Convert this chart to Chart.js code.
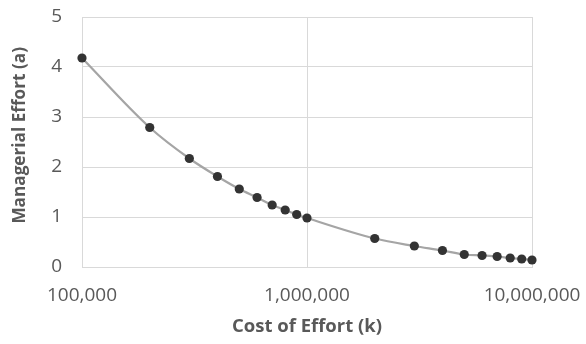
<!DOCTYPE html>
<html>
<head>
<meta charset="utf-8">
<script src="https://cdn.jsdelivr.net/npm/chart.js@4/dist/chart.umd.min.js"></script>
<style>
  html, body { margin: 0; padding: 0; background: #ffffff; }
  #wrap { width: 586px; height: 344px; position: relative; }
</style>
</head>
<body>
<div id="wrap"><canvas id="chart" width="586" height="344"></canvas></div>
<script>
// Cost of effort k (log scale) and the resulting managerial effort a
const costs  = [100000, 200000, 300000, 400000, 500000, 600000, 700000, 800000, 900000, 1000000,
                2000000, 3000000, 4000000, 5000000, 6000000, 7000000, 8000000, 9000000, 10000000];
const effort = [4.18, 2.79, 2.17, 1.81, 1.56, 1.39, 1.24, 1.14, 1.05, 0.98,
                0.57, 0.42, 0.33, 0.25, 0.23, 0.21, 0.18, 0.16, 0.14];
const xTicks = [100000, 1000000, 10000000];
const yTicks = [0, 1, 2, 3, 4, 5];

const points = costs.map((k, i) => ({ x: k, y: effort[i] }));

const textGrey = '#595959';
const gridGrey = '#d9d9d9';
const fontFamily = '"Open Sans", "Liberation Sans", sans-serif';

new Chart(document.getElementById('chart'), {
  type: 'line',
  data: {
    datasets: [{
      data: points,
      borderColor: '#a5a5a5',
      borderWidth: 2.25,
      cubicInterpolationMode: 'monotone',
      pointRadius: 4.6,
      pointBackgroundColor: '#333333',
      pointBorderWidth: 0,
      clip: false
    }]
  },
  options: {
    responsive: false,
    animation: false,
    layout: { padding: { top: 17, right: 54, bottom: 0, left: 0 } },
    plugins: { legend: { display: false }, tooltip: { enabled: false } },
    scales: {
      x: {
        type: 'logarithmic',
        min: xTicks[0],
        max: xTicks[xTicks.length - 1],
        afterBuildTicks: s => { s.ticks = xTicks.map(v => ({ value: v })); },
        afterFit: s => { s.height = 77; s.paddingLeft = 0; s.paddingRight = 0; },
        grid: { color: gridGrey, lineWidth: 1, drawTicks: false },
        border: { color: gridGrey, width: 1 },
        ticks: {
          color: textGrey,
          padding: 17,
          maxRotation: 0,
          font: { family: fontFamily, size: 19 },
          callback: v => Number(v).toLocaleString('en-US')
        },
        title: {
          display: true,
          text: 'Cost of Effort (k)',
          color: textGrey,
          font: { family: fontFamily, size: 18.5, weight: 'bold', lineHeight: 1.2 },
          padding: { top: 0, bottom: 6 }
        }
      },
      y: {
        min: 0,
        max: 5,
        afterBuildTicks: s => { s.ticks = yTicks.map(v => ({ value: v })); },
        afterFit: s => { s.width = 82; s.paddingTop = 0; s.paddingBottom = 0; },
        grid: { color: gridGrey, lineWidth: 1, drawTicks: false },
        border: { color: gridGrey, width: 1 },
        ticks: {
          color: textGrey,
          padding: 20,
          font: { family: fontFamily, size: 19 }
        },
        title: {
          display: true,
          // leading spaces lift the rotated title slightly above the plot's middle
          text: '   Managerial Effort (a)',
          color: textGrey,
          font: { family: fontFamily, size: 17.2, weight: 'bold', lineHeight: 1.2 },
          padding: { top: 10, bottom: 0 }
        }
      }
    }
  }
});
</script>
</body>
</html>
